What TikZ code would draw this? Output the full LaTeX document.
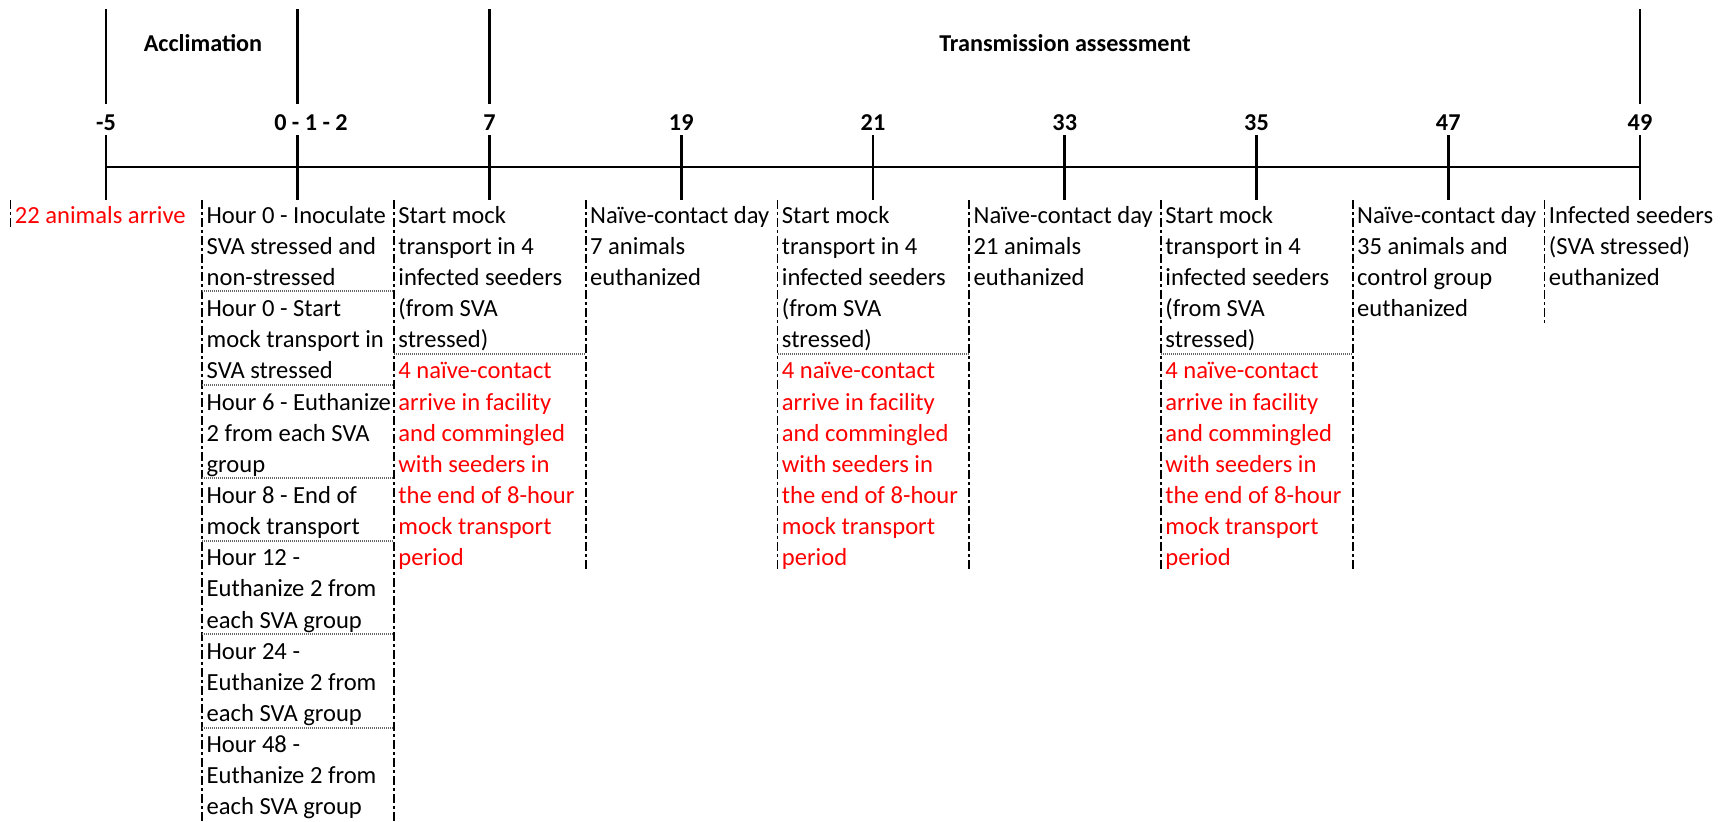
\documentclass[tikz,border=0pt]{standalone}
\usepackage{fontspec}
\setmainfont{Carlito}
\newcommand\fs{\rule{0pt}{10pt}}
\begin{document}
\begin{tikzpicture}[x=0.5pt,y=-0.5pt,
  axis/.style={line width=1.35pt},
  cellb/.style={line width=0.85pt, dash pattern=on 4.5pt off 1.5pt on 1.5pt off 1.5pt},
  rowb/.style={draw=black!60, line width=1pt, dash pattern=on 0.5pt off 0.5pt},
  txt/.style={anchor=north west, inner sep=0pt, align=left, font=\fontsize{12.3}{15.575}\selectfont},
  lbl/.style={inner sep=0pt, font=\bfseries\fontsize{12.1}{14}\selectfont},
]
\useasboundingbox (0,0) rectangle (1736,821);
% axis
\foreach \i in {0,...,8} {
  \coordinate (t\i) at (106+191.75*\i,167);
  \coordinate (tl\i) at (106+191.75*\i,135);
  \coordinate (tb\i) at (106+191.75*\i,200);
}
\draw[axis] (t0) -- (t8);
\foreach \i in {0,...,8} { \draw[axis] (tl\i) -- (tb\i); }
\foreach \i in {0,1,2,8} {
  \coordinate (up\i) at (106+191.75*\i,9);
  \coordinate (dn\i) at (106+191.75*\i,104);
  \draw[axis] (up\i) -- (dn\i);
}
% phase labels
\node[lbl] (accl) at (203,43) {Acclimation};
\node[lbl] (trans) at (1065,43) {Transmission assessment};
% day labels
\node[lbl] (d0) at (106,123) {-5};
\node[lbl] (d1) at (311,123) {0 - 1 - 2};
\node[lbl] (d2) at (489.5,123) {7};
\node[lbl] (d3) at (681.25,123) {19};
\node[lbl] (d4) at (873,123) {21};
\node[lbl] (d5) at (1064.75,123) {33};
\node[lbl] (d6) at (1256.5,123) {35};
\node[lbl] (d7) at (1448.25,123) {47};
\node[lbl] (d8) at (1640,123) {49};
% cell borders (vertical)
\draw[cellb] (10.5,200) -- (10.5,230);
\draw[cellb] (202.25,200) -- (202.25,821);
\draw[cellb] (394,200) -- (394,821);
\foreach \x in {585.75,777.5,969.25,1161,1352.75} { \draw[cellb] (\x,200) -- (\x,571); }
\draw[cellb] (1544.5,200) -- (1544.5,323);
% cell borders (horizontal)
\foreach \k in {3,6,9,11,14,17} { \draw[rowb] (202.25,198+31.15*\k) -- (394,198+31.15*\k); }
\foreach \x in {394,777.5,1161} { \draw[rowb] (\x,353.75) -- (\x+191.75,353.75); }
% texts
\node[txt,text=red] (c0) at (14.5,202.7) {\fs 22 animals arrive};
\node[txt] (c1a) at (206.25,202.7) {\fs Hour 0 - Inoculate\\SVA stressed and\\non-stressed};
\node[txt] (c1b) at (206.25,202.7+3*31.15) {\fs Hour 0 - Start\\mock transport in\\SVA stressed};
\node[txt] (c1c) at (206.25,202.7+6*31.15) {\fs Hour 6 - Euthanize\\2 from each SVA\\group};
\node[txt] (c1d) at (206.25,202.7+9*31.15) {\fs Hour 8 - End of\\mock transport};
\node[txt] (c1e) at (206.25,202.7+11*31.15) {\fs Hour 12 -\\Euthanize 2 from\\each SVA group};
\node[txt] (c1f) at (206.25,202.7+14*31.15) {\fs Hour 24 -\\Euthanize 2 from\\each SVA group};
\node[txt] (c1g) at (206.25,202.7+17*31.15) {\fs Hour 48 -\\Euthanize 2 from\\each SVA group};
\foreach \x/\n in {398/c2,781.5/c4,1165/c6} {
  \node[txt] (\n a) at (\x,202.7) {\fs Start mock\\transport in 4\\infected seeders\\(from SVA\\stressed)};
  \node[txt,text=red] (\n b) at (\x,202.7+5*31.15) {\fs 4 naïve-contact\\arrive in facility\\and commingled\\with seeders in\\the end of 8-hour\\mock transport\\period};
}
\node[txt] (c3) at (589.75,202.7) {\fs Naïve-contact day\\7 animals\\euthanized};
\node[txt] (c5) at (973.25,202.7) {\fs Naïve-contact day\\21 animals\\euthanized};
\node[txt] (c7) at (1356.75,202.7) {\fs Naïve-contact day\\35 animals and\\control group\\euthanized};
\node[txt] (c8) at (1548.5,202.7) {\fs Infected seeders\\(SVA stressed)\\euthanized};
\end{tikzpicture}
\end{document}
